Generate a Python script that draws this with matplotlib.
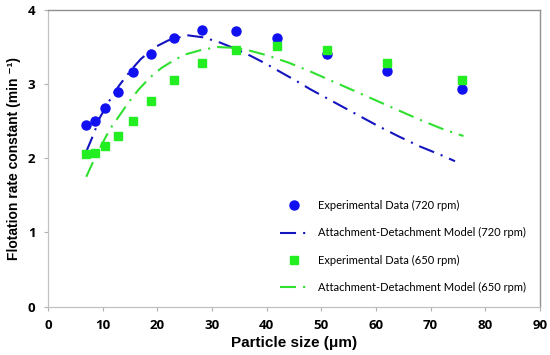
import matplotlib
matplotlib.use("Agg")
import matplotlib.pyplot as plt

# Experimental data
exp_x = [6.95, 8.6, 10.45, 12.75, 15.6, 18.85, 23.05, 28.2, 34.3, 41.8, 51.0, 62.1, 75.8]
exp720_y = [2.45, 2.50, 2.68, 2.89, 3.16, 3.41, 3.62, 3.73, 3.71, 3.62, 3.41, 3.18, 2.93]
exp650_y = [2.06, 2.07, 2.16, 2.30, 2.50, 2.77, 3.05, 3.28, 3.46, 3.51, 3.46, 3.29, 3.05]

# Model curves
mod720_x = [7.0, 8.2, 9.5, 11.5, 13.0, 15.3, 17.0, 19.6, 22.0, 25.4, 28.5, 31.5, 34.5,
            37.1, 40.0, 42.6, 45.5, 48.0, 52.0, 56.0, 60.0, 64.0, 68.0, 72.0, 74.45]
mod720_y = [2.09, 2.30, 2.55, 2.81, 2.98, 3.20, 3.34, 3.50, 3.59, 3.66, 3.63, 3.56, 3.47,
            3.38, 3.27, 3.16, 3.04, 2.93, 2.77, 2.61, 2.45, 2.30, 2.16, 2.04, 1.96]
mod650_x = [7.0, 8.3, 9.8, 11.3, 13.2, 14.7, 16.5, 18.65, 20.8, 23.2, 25.1, 28.0, 31.0,
            34.0, 37.0, 40.0, 44.0, 48.0, 52.0, 56.0, 60.0, 64.0, 68.0, 72.0, 76.0]
mod650_y = [1.75, 1.96, 2.18, 2.39, 2.59, 2.75, 2.92, 3.09, 3.22, 3.33, 3.40, 3.46, 3.50,
            3.49, 3.45, 3.39, 3.29, 3.17, 3.04, 2.91, 2.78, 2.65, 2.52, 2.40, 2.30]

labels = ["Experimental Data (720 rpm)", "Attachment-Detachment Model (720 rpm)",
          "Experimental Data (650 rpm)", "Attachment-Detachment Model (650 rpm)"]
x_ticks = [0, 10, 20, 30, 40, 50, 60, 70, 80, 90]
y_ticks = [0, 1, 2, 3, 4]

fig = plt.figure(figsize=(5.5, 3.55), dpi=100)
ax = fig.add_axes([48/550, 48.5/355, 492/550, 296.5/355])

blue_m = "#1010F0"
blue_l = "#1414C0"
green_m = "#22EE22"
green_l = "#30E030"
dash = (7.7, 3.4, 1.0, 3.4)

h1, = ax.plot(exp_x, exp720_y, 'o', color=blue_m, ms=6.5, mec=blue_m, label=labels[0], zorder=3)
h2, = ax.plot(mod720_x, mod720_y, '-', color=blue_l, lw=1.5, label=labels[1], zorder=2)
h2.set_dashes(dash)
h3, = ax.plot(exp_x, exp650_y, 's', color=green_m, ms=5.5, mec=green_m, label=labels[2], zorder=3)
h4, = ax.plot(mod650_x, mod650_y, '-', color=green_l, lw=1.5, label=labels[3], zorder=2)
h4.set_dashes(dash)

ax.set_xlim(0, 90)
ax.set_ylim(0, 4)
ax.set_xticks(x_ticks)
ax.set_yticks(y_ticks)
ax.tick_params(direction='out', length=3, width=0.8, color='#b0b0b0', pad=6)
for lab in ax.get_xticklabels() + ax.get_yticklabels():
    lab.set_fontweight('bold')
    lab.set_fontsize(9.5)
    lab.set_family(['Open Sans', 'DejaVu Sans'])
for s in ['left', 'bottom']:
    ax.spines[s].set_color('#c0c0c0')
    ax.spines[s].set_linewidth(0.9)
for s in ['top', 'right']:
    ax.spines[s].set_color('#909090')
    ax.spines[s].set_linewidth(1.0)

ax.set_xlabel("Particle size (μm)", fontsize=11, fontweight='bold',
              family=['Liberation Sans', 'DejaVu Sans'], labelpad=3)
ax.set_ylabel("Flotation rate constant (min ⁻¹)", fontsize=10, fontweight='bold',
              family=['Liberation Sans', 'DejaVu Sans'], labelpad=5)

leg = ax.legend(handles=[h1, h2, h3, h4], loc='center left', bbox_to_anchor=(0.4715, 0.2024),
                frameon=False, borderaxespad=0, borderpad=0, labelspacing=1.45,
                handlelength=2.6, handletextpad=0.8, numpoints=1,
                prop={'family': ['Lato', 'DejaVu Sans'], 'size': 8})

fig.savefig("out.png", dpi=100)
